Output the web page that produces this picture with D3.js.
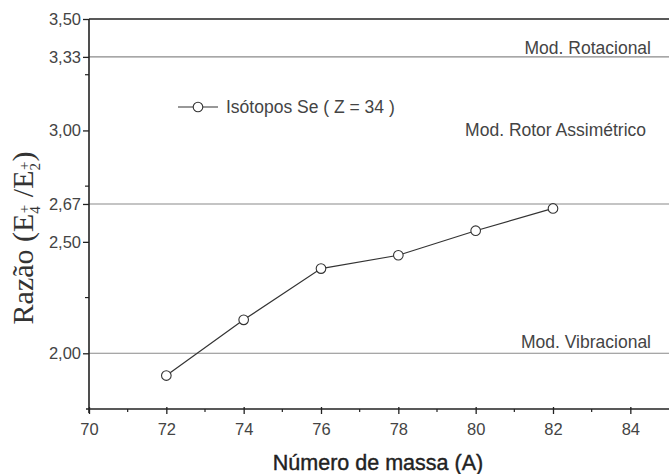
<!DOCTYPE html>
<html><head><meta charset="utf-8">
<script src="https://cdn.jsdelivr.net/npm/d3@7"></script>
<style>body{margin:0;background:#fff}svg{display:block}</style>
</head><body>
<svg id="c" width="669" height="474"></svg>
<script>
const massNumbers = [72, 74, 76, 78, 80, 82];
const ratios = [1.90, 2.15, 2.38, 2.44, 2.55, 2.65];
const xTicks = [70, 72, 74, 76, 78, 80, 82, 84];
const xMinorTicks = [71, 73, 75, 77, 79, 81, 83];
const yTicks = [2.00, 2.50, 2.67, 3.00, 3.33, 3.50];
const yTickLabels = ["2,00", "2,50", "2,67", "3,00", "3,33", "3,50"];
const yMinorTicks = [2.25, 2.75, 3.25];
const refLevels = [2.00, 2.67, 3.33];
const modelLabels = ["Mod. Vibracional", "Mod. Rotor Assimétrico", "Mod. Rotacional"];
const modelLabelY = [2.05, 3.00, 3.37];
const seriesName = "Isótopos Se ( Z = 34 )";

const svg = d3.select("#c");
const x = d3.scaleLinear().domain([70, 85]).range([89, 669]);
const y = d3.scaleLinear().domain([1.75, 3.5]).range([409, 19]);
const textCol = "#444", axisCol = "#222";
const font = "'Liberation Sans', Arial, sans-serif";

// reference lines
svg.selectAll(".ref").data(refLevels).join("line")
  .attr("x1", x(70)).attr("x2", 669)
  .attr("y1", d => y(d)).attr("y2", d => y(d))
  .attr("stroke", "#8a8a8a").attr("stroke-width", 1.1);

// top border line at 3.50
svg.append("line").attr("x1", x(70)).attr("x2", 669).attr("y1", y(3.5)).attr("y2", y(3.5))
  .attr("stroke", axisCol).attr("stroke-width", 1.6);

// x axis
const gx = svg.append("g").attr("transform", `translate(0,${y(1.75)})`)
  .call(d3.axisBottom(x).tickValues(xTicks).tickSize(6).tickPadding(8).tickFormat(d3.format("d")));
gx.select(".domain").attr("d", `M${x(70)-3},0H669`).attr("stroke", axisCol).attr("stroke-width", 1.6);
gx.selectAll(".tick line").attr("y1", -2).attr("y2", 5).attr("stroke", axisCol).attr("stroke-width", 1.3);
gx.selectAll(".tick text").attr("font-family", font).attr("font-size", 16.5).attr("fill", textCol);
svg.append("g").selectAll("line").data(xMinorTicks).join("line")
  .attr("x1", d => x(d)).attr("x2", d => x(d))
  .attr("y1", y(1.75)).attr("y2", y(1.75) + 3)
  .attr("stroke", axisCol).attr("stroke-width", 1.2);

// y axis
const gy = svg.append("g").attr("transform", `translate(${x(70)},0)`)
  .call(d3.axisLeft(y).tickValues(yTicks).tickSize(6).tickPadding(2)
    .tickFormat((d, i) => yTickLabels[i]));
gy.select(".domain").attr("d", `M0,${y(3.5)}V${y(1.75)+4}`).attr("stroke", axisCol).attr("stroke-width", 1.6);
gy.selectAll(".tick line").attr("stroke", axisCol).attr("stroke-width", 1.3);
gy.selectAll(".tick text").attr("font-family", font).attr("font-size", 16.5).attr("fill", textCol);
svg.append("g").selectAll("line").data(yMinorTicks).join("line")
  .attr("x1", x(70) - 4).attr("x2", x(70))
  .attr("y1", d => y(d)).attr("y2", d => y(d))
  .attr("stroke", axisCol).attr("stroke-width", 1.2);

// data line
const pts = massNumbers.map((m, i) => [m, ratios[i]]);
svg.append("path").datum(pts)
  .attr("d", d3.line().x(d => x(d[0])).y(d => y(d[1])))
  .attr("fill", "none").attr("stroke", "#333").attr("stroke-width", 1.2);
svg.selectAll(".pt").data(pts).join("circle")
  .attr("cx", d => x(d[0])).attr("cy", d => y(d[1])).attr("r", 4.8)
  .attr("fill", "#fff").attr("stroke", "#333").attr("stroke-width", 1.1);

// legend
const ly = 107;
svg.append("line").attr("x1", 178).attr("x2", 218).attr("y1", ly).attr("y2", ly)
  .attr("stroke", "#333").attr("stroke-width", 1.2);
svg.append("circle").attr("cx", 198).attr("cy", ly).attr("r", 4.8)
  .attr("fill", "#fff").attr("stroke", "#333").attr("stroke-width", 1.1);
svg.append("text").attr("x", 226).attr("y", ly + 6).text(seriesName)
  .attr("font-family", font).attr("font-size", 17.5).attr("fill", textCol);

// model labels
svg.selectAll(".ml").data(modelLabels).join("text")
  .attr("x", (d, i) => i === 1 ? 646 : 651)
  .attr("y", (d, i) => y(modelLabelY[i]) + 6)
  .attr("text-anchor", "end")
  .attr("font-family", font).attr("font-size", 17.5).attr("fill", textCol)
  .text(d => d);

// x title
svg.append("text").attr("x", 378).attr("y", 470).attr("text-anchor", "middle")
  .attr("font-family", font).attr("font-size", 21.5).attr("fill", "#222")
  .attr("stroke", "#222").attr("stroke-width", 0.4)
  .text("Número de massa (A)");

// y title
const yt = svg.append("text").attr("transform", "translate(33,238) rotate(-90)")
  .attr("text-anchor", "middle").attr("font-family", "'Liberation Serif', 'Times New Roman', serif")
  .attr("font-size", 30).attr("fill", "#333");
yt.append("tspan").text("Razão (E");
yt.append("tspan").attr("font-size", 15).attr("dy", 7).text("4");
yt.append("tspan").attr("font-size", 15).attr("dx", -7).attr("dy", -11).text("+");
yt.append("tspan").attr("dy", 4).text(" /E");
yt.append("tspan").attr("font-size", 15).attr("dy", 7).text("2");
yt.append("tspan").attr("font-size", 15).attr("dx", -7).attr("dy", -11).text("+");
yt.append("tspan").attr("dy", 4).text(")");
</script>
</body></html>
